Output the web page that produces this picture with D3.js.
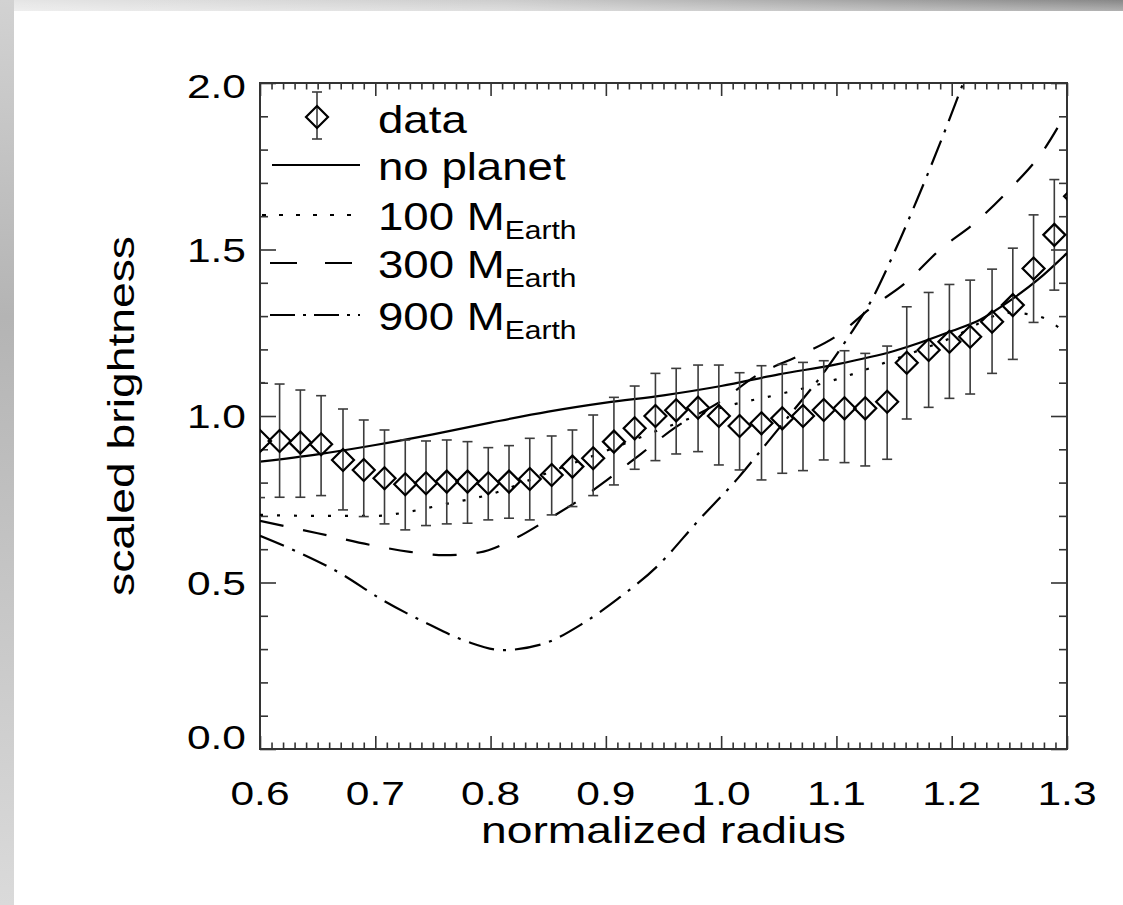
<!DOCTYPE html>
<html><head><meta charset="utf-8">
<script src="https://cdn.jsdelivr.net/npm/d3@7"></script>
<style>
html,body{margin:0;padding:0;background:#fff;}
svg{display:block;}
text{font-family:"Liberation Sans",Arial,Helvetica,sans-serif;fill:#000;}
</style></head><body>
<svg id="chart" width="1123" height="905"></svg>
<script>
// ---------------- data ----------------
const radius = [0.600,0.617,0.635,0.653,0.672,0.690,0.708,0.726,0.744,0.762,0.780,0.798,0.816,0.834,0.853,0.871,0.889,0.907,0.925,0.943,0.961,0.980,0.998,1.016,1.035,1.053,1.071,1.089,1.107,1.125,1.144,1.161,1.180,1.198,1.216,1.235,1.253,1.271,1.289,1.307];
const brightness = [0.925,0.925,0.920,0.915,0.868,0.838,0.813,0.795,0.798,0.803,0.803,0.798,0.803,0.811,0.823,0.848,0.873,0.923,0.963,1.000,1.017,1.025,1.000,0.970,0.978,0.993,1.000,1.018,1.023,1.023,1.043,1.160,1.198,1.223,1.238,1.283,1.333,1.443,1.544,1.660];
const errUpper = [1.100,1.096,1.078,1.061,1.021,0.988,0.958,0.928,0.925,0.928,0.923,0.905,0.911,0.933,0.940,0.958,1.003,1.056,1.090,1.128,1.143,1.153,1.153,1.130,1.151,1.155,1.161,1.166,1.196,1.188,1.210,1.328,1.371,1.395,1.408,1.441,1.504,1.604,1.710,1.850];
const errLower = [0.755,0.756,0.756,0.761,0.718,0.698,0.676,0.658,0.671,0.676,0.678,0.688,0.693,0.688,0.703,0.728,0.761,0.793,0.840,0.866,0.886,0.893,0.853,0.838,0.808,0.828,0.836,0.868,0.860,0.850,0.870,0.991,1.026,1.053,1.066,1.128,1.170,1.281,1.378,1.470];

const noPlanetR = [0.600,0.650,0.700,0.750,0.800,0.850,0.900,0.950,1.000,1.050,1.100,1.150,1.200,1.225,1.250,1.275,1.300];
const noPlanetB = [0.863,0.885,0.913,0.945,0.980,1.013,1.040,1.062,1.090,1.125,1.155,1.195,1.255,1.290,1.345,1.410,1.489];

const m100R = [0.600,0.650,0.700,0.730,0.760,0.800,0.850,0.900,0.950,1.000,1.050,1.100,1.150,1.200,1.250,1.275,1.300];
const m100B = [0.703,0.700,0.700,0.713,0.735,0.765,0.830,0.895,0.963,1.025,1.065,1.110,1.170,1.235,1.310,1.300,1.245];

const m300R = [0.600,0.650,0.700,0.730,0.760,0.790,0.820,0.850,0.880,0.900,0.930,0.960,1.000,1.030,1.070,1.100,1.130,1.160,1.190,1.220,1.250,1.280,1.300];
const m300B = [0.685,0.648,0.610,0.592,0.582,0.590,0.630,0.690,0.755,0.805,0.885,0.965,1.045,1.120,1.185,1.240,1.325,1.400,1.500,1.580,1.680,1.800,1.915];

const m900R = [0.600,0.635,0.670,0.705,0.745,0.780,0.810,0.845,0.880,0.910,0.945,0.980,1.015,1.040,1.060,1.090,1.110,1.130,1.150,1.170,1.190,1.210,1.230];
const m900B = [0.640,0.588,0.527,0.450,0.377,0.322,0.297,0.315,0.377,0.450,0.550,0.685,0.815,0.920,1.005,1.135,1.235,1.345,1.490,1.650,1.820,2.000,2.180];

const xTickValues = [0.6,0.7,0.8,0.9,1.0,1.1,1.2,1.3];
const xTickLabels = ["0.6","0.7","0.8","0.9","1.0","1.1","1.2","1.3"];
const yTickValues = [0.0,0.5,1.0,1.5,2.0];
const yTickLabels = ["0.0","0.5","1.0","1.5","2.0"];

const legendItems = [
  {label:"no planet", sub:"", dash:null, x0:272, x1:360},
  {label:"100 M", sub:"Earth", dash:"4,13", x0:262, x1:353},
  {label:"300 M", sub:"Earth", dash:"27,28", x0:270, x1:368},
  {label:"900 M", sub:"Earth", dash:"25,8,3,8", x0:270, x1:360}
];

// ---------------- layout ----------------
const W = 1123, H = 905;
const L = 260, R = 1067, T = 83, B = 749;
const svg = d3.select("#chart");

const x = d3.scaleLinear().domain([0.6, 1.3]).range([L, R]);
const y = d3.scaleLinear().domain([0, 2]).range([B, T]);

// background frame
const defs = svg.append("defs");
const gTop = defs.append("linearGradient").attr("id","gtop").attr("x1","0").attr("x2","1").attr("y1","0").attr("y2","0");
gTop.append("stop").attr("offset","0").attr("stop-color","#e6e6e6");
gTop.append("stop").attr("offset","0.45").attr("stop-color","#cdcdcd");
gTop.append("stop").attr("offset","1").attr("stop-color","#878787");
const gTopV = defs.append("linearGradient").attr("id","gtopv").attr("x1","0").attr("x2","0").attr("y1","0").attr("y2","1");
gTopV.append("stop").attr("offset","0").attr("stop-color","#fff").attr("stop-opacity",0);
gTopV.append("stop").attr("offset","1").attr("stop-color","#fff").attr("stop-opacity",0.35);
const gLeft = defs.append("linearGradient").attr("id","gleft").attr("x1","0").attr("x2","0").attr("y1","0").attr("y2","1");
gLeft.append("stop").attr("offset","0").attr("stop-color","#d2d2d2");
gLeft.append("stop").attr("offset","0.35").attr("stop-color","#b4b4b4");
gLeft.append("stop").attr("offset","1").attr("stop-color","#dadada");
svg.append("rect").attr("x",0).attr("y",0).attr("width",W).attr("height",H).attr("fill","#fff");
svg.append("rect").attr("x",0).attr("y",0).attr("width",W).attr("height",11).attr("fill","url(#gtop)");
svg.append("rect").attr("x",0).attr("y",0).attr("width",W).attr("height",11).attr("fill","url(#gtopv)");
svg.append("rect").attr("x",0).attr("y",0).attr("width",14).attr("height",H).attr("fill","url(#gleft)");

defs.append("clipPath").attr("id","plotclip").append("rect")
  .attr("x",L).attr("y",T).attr("width",R-L).attr("height",B-T);

// text helper (glyphs slightly wider than Liberation Sans)
function stext(g, px, py, str, anchor, size, sx, rot) {
  return g.append("text")
    .attr("transform", `translate(${px},${py})` + (rot ? ` rotate(${rot})` : "") + ` scale(${sx},1)`)
    .attr("text-anchor", anchor)
    .style("font-size", size + "px")
    .text(str);
}

// ---------------- axes ----------------
const axG = svg.append("g").attr("class","axes");
const xMinor = d3.range(60, 131).map(d => d / 100).filter(v => Math.round(v * 100) % 10 !== 0);
const yMinor = d3.range(0, 21).map(d => d / 10).filter(v => Math.round(v * 10) % 5 !== 0);

function styleAxis(sel) {
  sel.select(".domain").remove();
  sel.selectAll(".tick line").attr("stroke","#333").attr("stroke-width",1.6);
  sel.selectAll(".tick text").remove();
}
axG.append("g").attr("transform",`translate(0,${B})`).call(d3.axisBottom(x).tickValues(xMinor).tickSize(-6.5)).call(styleAxis);
axG.append("g").attr("transform",`translate(0,${B})`).call(d3.axisBottom(x).tickValues(xTickValues).tickSize(-13)).call(styleAxis);
axG.append("g").attr("transform",`translate(0,${T})`).call(d3.axisTop(x).tickValues(xMinor).tickSize(-6.5)).call(styleAxis);
axG.append("g").attr("transform",`translate(0,${T})`).call(d3.axisTop(x).tickValues(xTickValues).tickSize(-13)).call(styleAxis);
axG.append("g").attr("transform",`translate(${L},0)`).call(d3.axisLeft(y).tickValues(yMinor).tickSize(-8)).call(styleAxis);
axG.append("g").attr("transform",`translate(${L},0)`).call(d3.axisLeft(y).tickValues(yTickValues).tickSize(-16)).call(styleAxis);
axG.append("g").attr("transform",`translate(${R},0)`).call(d3.axisRight(y).tickValues(yMinor).tickSize(-8)).call(styleAxis);
axG.append("g").attr("transform",`translate(${R},0)`).call(d3.axisRight(y).tickValues(yTickValues).tickSize(-16)).call(styleAxis);
axG.append("rect").attr("x",L).attr("y",T).attr("width",R-L).attr("height",B-T)
  .attr("fill","none").attr("stroke","#333").attr("stroke-width",2);

// tick labels
const tickSize = 34, tickSx = 1.25;
xTickValues.forEach((v,i) => stext(axG, x(v), 805, xTickLabels[i], "middle", tickSize, tickSx));
yTickValues.forEach((v,i) => {
  const base = Math.max(98, Math.min(B, y(v) + 12));
  stext(axG, 246, base, yTickLabels[i], "end", tickSize, tickSx);
});
// titles
stext(axG, (L+R)/2, 843, "normalized radius", "middle", 37, 1.25);
stext(axG, 134, (T+B)/2, "scaled brightness", "middle", 37, 1.25, -90);

// ---------------- plot content ----------------
const plot = svg.append("g").attr("clip-path","url(#plotclip)");
const line = d3.line().x(d => x(d[0])).y(d => y(d[1])).curve(d3.curveMonotoneX);

const models = [
  {r:noPlanetR, b:noPlanetB, dash:null},
  {r:m100R, b:m100B, dash:"3,14"},
  {r:m300R, b:m300B, dash:"24,20"},
  {r:m900R, b:m900B, dash:"26,9,3,9"}
];
models.forEach(m => {
  plot.append("path")
    .attr("d", line(m.r.map((v,i) => [v, m.b[i]])))
    .attr("fill","none").attr("stroke","#000").attr("stroke-width",2.2)
    .attr("stroke-dasharray", m.dash);
});

const pts = radius.map((r,i) => ({r, b:brightness[i], hi:errUpper[i], lo:errLower[i]}));
const cap = 5, dr = 11;
const errColor = "#3c3c3c";
const eg = plot.append("g").attr("stroke",errColor).attr("stroke-width",1.6).attr("fill","none");
pts.forEach(p => {
  const px = x(p.r);
  eg.append("line").attr("x1",px).attr("x2",px).attr("y1",y(p.hi)).attr("y2",y(p.lo));
  eg.append("line").attr("x1",px-cap).attr("x2",px+cap).attr("y1",y(p.hi)).attr("y2",y(p.hi));
  eg.append("line").attr("x1",px-cap).attr("x2",px+cap).attr("y1",y(p.lo)).attr("y2",y(p.lo));
});
const diamond = (cx, cy) => `M${cx},${cy-dr}L${cx+dr},${cy}L${cx},${cy+dr}L${cx-dr},${cy}Z`;
plot.append("g").selectAll("path").data(pts).join("path")
  .attr("d", p => diamond(x(p.r), y(p.b)))
  .attr("fill","none").attr("stroke","#000").attr("stroke-width",2.2);

// ---------------- legend ----------------
const lg = svg.append("g");
const symX = 317, symY = 117;
lg.append("line").attr("x1",symX).attr("x2",symX).attr("y1",92).attr("y2",139).attr("stroke",errColor).attr("stroke-width",1.6);
lg.append("line").attr("x1",symX-cap).attr("x2",symX+cap).attr("y1",92).attr("y2",92).attr("stroke",errColor).attr("stroke-width",1.6);
lg.append("line").attr("x1",symX-cap).attr("x2",symX+cap).attr("y1",139).attr("y2",139).attr("stroke",errColor).attr("stroke-width",1.6);
lg.append("path").attr("d", diamond(symX, symY)).attr("fill","none").attr("stroke","#000").attr("stroke-width",2.2);
stext(lg, 378, 133, "data", "start", 38, 1.2);

const rowY = [165, 215, 263, 315];
legendItems.forEach((it, i) => {
  lg.append("line").attr("x1",it.x0).attr("x2",it.x1).attr("y1",rowY[i]).attr("y2",rowY[i])
    .attr("stroke","#000").attr("stroke-width",2.2).attr("stroke-dasharray", it.dash);
  const t = stext(lg, 378, rowY[i] + 15, it.label, "start", 38, 1.2);
  if (it.sub) {
    t.append("tspan").attr("dy", 9).style("font-size","25px").text(it.sub);
  }
});
</script>
</body></html>
